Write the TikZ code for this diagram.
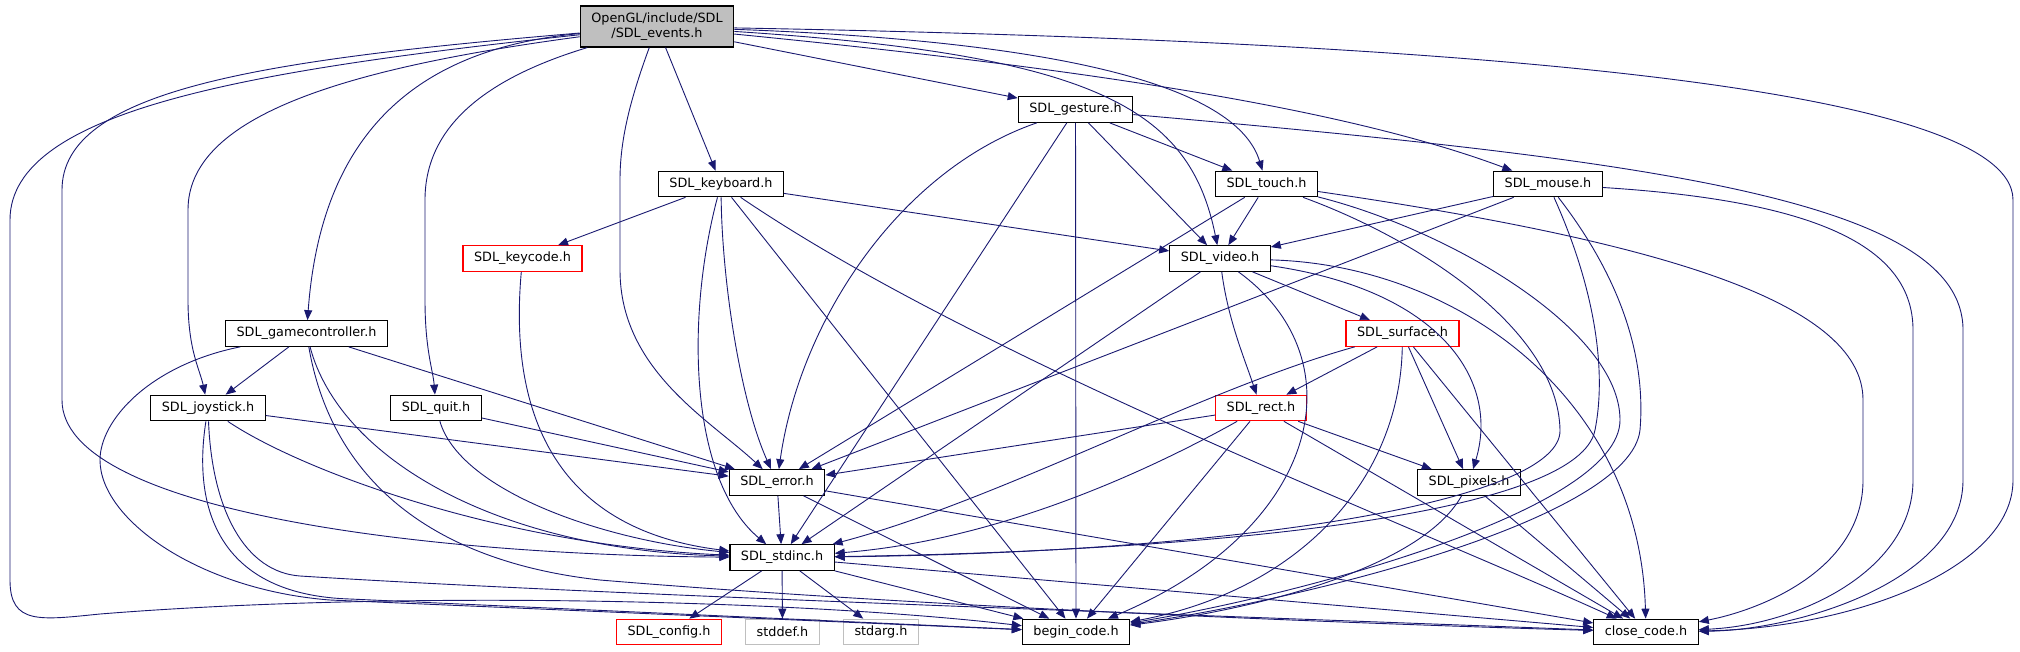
\documentclass[tikz,border=0pt]{standalone}
\usepackage{fontspec}
\setmainfont{DejaVu Sans}
\usepackage{xcolor}
\usetikzlibrary{arrows.meta}
\definecolor{dep_blue}{HTML}{191970}
\definecolor{box_gray}{HTML}{BFBFBF}
\definecolor{box_red}{HTML}{FF0000}

\begin{document}
\begin{tikzpicture}[
        x=1pt, y=-1pt,
        file/.style={rectangle, draw=black, line width=1.2pt, fill=white, minimum height=25.5pt, inner xsep=11pt, inner ysep=0pt, font=\fontsize{12.8}{14.5}\selectfont},
        mainfile/.style={file, fill=box_gray, align=center, minimum height=41pt},
        redfile/.style={file, draw=box_red},
        sysfile/.style={file, draw=box_gray},
        dep/.style={-{Triangle[length=10pt, width=8pt]}, draw=dep_blue, line width=0.9pt},
    ]
        \useasboundingbox (0,0) rectangle (2020,651);

        % Files
        \node[mainfile] (events) at (657,26.5) {OpenGL/include/SDL\\/SDL\_events.h};
        \node[file] (gesture) at (1075.5,109.5) {SDL\_gesture.h};
        \node[file] (keyboard) at (721,184) {SDL\_keyboard.h};
        \node[file] (touch) at (1266.5,184) {SDL\_touch.h};
        \node[file] (mouse) at (1548,184) {SDL\_mouse.h};
        \node[redfile] (keycode) at (522.5,258.5) {SDL\_keycode.h};
        \node[file] (video) at (1220,258.5) {SDL\_video.h};
        \node[file] (gamecontroller) at (306.5,333.5) {SDL\_gamecontroller.h};
        \node[redfile] (surface) at (1402.5,333.5) {SDL\_surface.h};
        \node[file] (joystick) at (208,408) {SDL\_joystick.h};
        \node[file] (quit) at (436,408) {SDL\_quit.h};
        \node[redfile] (rect) at (1261,408) {SDL\_rect.h};
        \node[file] (error) at (777,482.5) {SDL\_error.h};
        \node[file] (pixels) at (1469,482.5) {SDL\_pixels.h};
        \node[file] (stdinc) at (782,557.5) {SDL\_stdinc.h};
        \node[redfile] (config) at (669,632) {SDL\_config.h};
        \node[sysfile] (stddef) at (782.5,632) {stddef.h};
        \node[sysfile] (stdarg) at (881,632) {stdarg.h};
        \node[file] (begincode) at (1076,632) {begin\_code.h};
        \node[file] (closecode) at (1646,632) {close\_code.h};

        % SDL_events.h
        \draw[dep] (events) -- (keyboard);
        \draw[dep] (events) -- (gesture);
        \draw[dep] (events) .. controls (1100,55) and (1190,110) .. (video);
        \draw[dep] (events) .. controls (1080,42) and (1238,90) .. (touch);
        \draw[dep] (events) .. controls (1100,70) and (1350,110) .. (mouse);
        \draw[dep] (events) .. controls (1400,40) and (2013,80) .. (2013,200) -- (2013,480) .. controls (2013,570) and (1850,628) .. (closecode);
        \draw[dep] (events) .. controls (630,100) and (620,140) .. (620,180) -- (620,270) .. controls (620,370) and (710,420) .. (error);
        \draw[dep] (events) .. controls (480,80) and (425,130) .. (425,200) -- (425,300) .. controls (425,350) and (433,370) .. (quit);
        \draw[dep] (events) .. controls (400,50) and (320,150) .. (gamecontroller);
        \draw[dep] (events) .. controls (330,70) and (188,120) .. (188,210) -- (188,300) .. controls (188,350) and (200,370) .. (joystick);
        \draw[dep] (events) .. controls (260,60) and (62,90) .. (62,190) -- (62,400) .. controls (62,510) and (420,555) .. (stdinc);
        \draw[dep] (events) .. controls (250,70) and (10,110) .. (10,220) -- (10,580) .. controls (10,625) and (40,620) .. (100,614) .. controls (400,590) and (800,600) .. (begincode);

        % SDL_keyboard.h
        \draw[dep] (keyboard) -- (keycode);
        \draw[dep] (keyboard) -- (video);
        \draw[dep] (keyboard) .. controls (722,280) and (740,400) .. (error);
        \draw[dep] (keyboard) .. controls (685,320) and (690,480) .. (stdinc);
        \draw[dep] (keyboard) -- (begincode);
        \draw[dep] (keyboard) .. controls (980,360) and (1400,520) .. (closecode);
        \draw[dep] (keycode) .. controls (508,420) and (560,530) .. (stdinc);

        % SDL_gesture.h
        \draw[dep] (gesture) -- (touch);
        \draw[dep] (gesture) -- (video);
        \draw[dep] (gesture) -- (begincode);
        \draw[dep] (gesture) -- (stdinc);
        \draw[dep] (gesture) .. controls (900,170) and (800,320) .. (error);
        \draw[dep] (gesture) .. controls (1650,160) and (1963,200) .. (1963,330) -- (1963,480) .. controls (1963,580) and (1800,630) .. (closecode);

        % SDL_touch.h
        \draw[dep] (touch) -- (video);
        \draw[dep] (touch) -- (error);
        \draw[dep] (touch) .. controls (1420,240) and (1558,330) .. (1560,430) .. controls (1562,500) and (1250,552) .. (stdinc);
        \draw[dep] (touch) .. controls (1450,230) and (1620,330) .. (1620,420) .. controls (1620,510) and (1300,595) .. (begincode);
        \draw[dep] (touch) .. controls (1650,240) and (1863,300) .. (1863,400) -- (1863,480) .. controls (1863,570) and (1760,610) .. (closecode);

        % SDL_mouse.h
        \draw[dep] (mouse) -- (video);
        \draw[dep] (mouse) -- (error);
        \draw[dep] (mouse) .. controls (1600,300) and (1605,380) .. (1595,430) .. controls (1580,510) and (1250,550) .. (stdinc);
        \draw[dep] (mouse) .. controls (1630,290) and (1645,370) .. (1640,430) .. controls (1630,520) and (1300,600) .. (begincode);
        \draw[dep] (mouse) .. controls (1800,200) and (1913,240) .. (1913,330) -- (1913,480) .. controls (1913,570) and (1800,625) .. (closecode);

        % SDL_video.h
        \draw[dep] (video) -- (surface);
        \draw[dep] (video) .. controls (1228,320) and (1245,360) .. (rect);
        \draw[dep] (video) .. controls (1440,290) and (1500,380) .. (pixels);
        \draw[dep] (video) -- (stdinc);
        \draw[dep] (video) .. controls (1360,360) and (1320,530) .. (begincode);
        \draw[dep] (video) .. controls (1460,265) and (1640,400) .. (closecode);

        % SDL_surface.h
        \draw[dep] (surface) -- (rect);
        \draw[dep] (surface) -- (pixels);
        \draw[dep] (surface) .. controls (1200,390) and (1000,500) .. (stdinc);
        \draw[dep] (surface) .. controls (1400,480) and (1300,590) .. (begincode);
        \draw[dep] (surface) -- (closecode);

        % SDL_rect.h
        \draw[dep] (rect) -- (pixels);
        \draw[dep] (rect) -- (error);
        \draw[dep] (rect) .. controls (1150,470) and (1000,540) .. (stdinc);
        \draw[dep] (rect) -- (begincode);
        \draw[dep] (rect) -- (closecode);

        % SDL_pixels.h
        \draw[dep] (pixels) .. controls (1420,570) and (1250,610) .. (begincode);
        \draw[dep] (pixels) -- (closecode);

        % SDL_gamecontroller.h
        \draw[dep] (gamecontroller) -- (joystick);
        \draw[dep] (gamecontroller) -- (error);
        \draw[dep] (gamecontroller) .. controls (340,460) and (500,550) .. (stdinc);
        \draw[dep] (gamecontroller) .. controls (150,365) and (100,420) .. (100,460) .. controls (100,520) and (200,590) .. (330,600) -- (begincode);
        \draw[dep] (gamecontroller) .. controls (330,470) and (420,560) .. (600,580) .. controls (900,605) and (1300,622) .. (closecode);

        % SDL_joystick.h
        \draw[dep] (joystick) -- (error);
        \draw[dep] (joystick) .. controls (300,470) and (500,545) .. (stdinc);
        \draw[dep] (joystick) .. controls (192,510) and (220,595) .. (350,599) -- (begincode);
        \draw[dep] (joystick) .. controls (212,510) and (245,572) .. (300,576) .. controls (600,595) and (1200,615) .. (closecode);

        % SDL_quit.h
        \draw[dep] (quit) -- (error);
        \draw[dep] (quit) .. controls (460,490) and (600,540) .. (stdinc);

        % SDL_error.h
        \draw[dep] (error) -- (stdinc);
        \draw[dep] (error) -- (begincode);
        \draw[dep] (error) -- (closecode);

        % SDL_stdinc.h
        \draw[dep] (stdinc) -- (config);
        \draw[dep] (stdinc) -- (stddef);
        \draw[dep] (stdinc) -- (stdarg);
        \draw[dep] (stdinc) -- (begincode);
        \draw[dep] (stdinc) -- (closecode);
    \end{tikzpicture}
\end{document}
